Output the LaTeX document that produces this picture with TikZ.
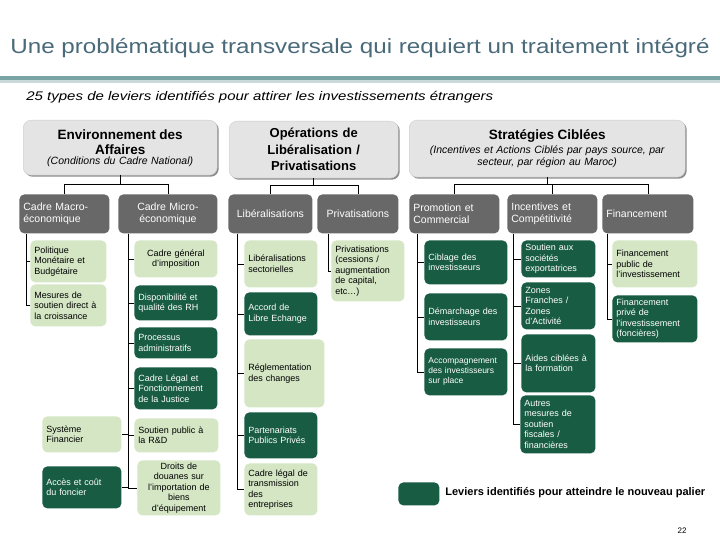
\documentclass[tikz,border=0pt]{standalone}
\usepackage{fontspec}
\usepackage{graphicx}
\setmainfont{Liberation Sans}
\usetikzlibrary{shadows}

\definecolor{titleblue}{RGB}{74,106,122}
\definecolor{rulegreen}{RGB}{122,163,163}
\definecolor{headgray}{RGB}{228,228,228}
\definecolor{subgray}{RGB}{104,104,104}
\definecolor{palegreen}{RGB}{212,230,196}
\definecolor{levergreen}{RGB}{24,92,68}

\tikzset{
  box/.style={rounded corners=5pt, inner xsep=4pt, inner ysep=2pt, anchor=north west,
    align=left, font=\fontsize{9}{10.5}\selectfont},
  palebox/.style={box, fill=palegreen},
  leverbox/.style={box, fill=levergreen, text=white},
  subbox/.style={box, fill=subgray, text=white, minimum height=39pt,
    font=\fontsize{10.5}{12.5}\selectfont},
  headbox/.style={box, rounded corners=8pt, fill=headgray, draw=black!20, line width=0.4pt,
    align=center, drop shadow={shadow xshift=1.5pt, shadow yshift=-1.5pt, fill=black!45, opacity=1}},
}

\begin{document}
\begin{tikzpicture}[x=1pt,y=-1pt,line width=0.8pt]
  \useasboundingbox[fill=white] (0,0) rectangle (720,540);
  % title and rule
  \node[anchor=west, inner sep=0, text=titleblue, font=\fontsize{20.5}{24}\selectfont] (title) at (10,48)
    {\scalebox{1.18}[1]{Une problématique transversale qui requiert un traitement intégré}};
  \fill[rulegreen] (0,76) rectangle (720,80);
  \fill[rulegreen!40] (0,80) rectangle (720,83);
  \node[anchor=west, inner sep=0, font=\fontsize{12.5}{15}\selectfont\itshape] (subtitle) at (26,97)
    {\scalebox{1.2}[1]{25 types de leviers identifiés pour attirer les investissements étrangers}};

  % the three families
  \node[headbox, text width=186pt, minimum height=55pt, font=\fontsize{10.5}{12}\selectfont] (env) at (23,120)
    {{\fontsize{13.5}{16}\selectfont\bfseries Environnement des\\[3pt] Affaires}\\[-2pt]
     {\itshape (Conditions du Cadre National)}};
  \node[headbox, text width=161pt, minimum height=57pt, font=\fontsize{13}{16.5}\selectfont\bfseries] (oper) at (229,121)
    {Opérations de\\Libéralisation /\\Privatisations};
  \node[headbox, text width=268pt, minimum height=57pt, font=\fontsize{10.5}{12}\selectfont] (strat) at (409,120)
    {{\fontsize{13.5}{16}\selectfont\bfseries Stratégies Ciblées}\\[2pt]
     {\itshape (Incentives et Actions Ciblés par pays source, par\\ secteur, par région au Maroc)}};

  % sub-categories
  \node[subbox, text width=82pt] (macro) at (19,194) {Cadre Macro-\\économique};
  \node[subbox, text width=91pt, align=center] (micro) at (118,194) {Cadre Micro-\\économique};
  \node[subbox, text width=76pt, align=center] (libe) at (228,194) {Libéralisations};
  \node[subbox, text width=73pt, align=center] (priv) at (317,194) {Privatisations};
  \node[subbox, text width=82pt] (promo) at (409,194) {Promotion et\\Commercial};
  \node[subbox, text width=82pt] (incent) at (507,194) {Incentives et\\Compétitivité};
  \node[subbox, text width=83pt] (finan) at (602,194) {Financement};

  % macro
  \node[palebox, text width=68pt, minimum height=42pt] (pol) at (30,240) {Politique\\Monétaire et\\Budgétaire};
  \node[palebox, text width=68pt, minimum height=42pt] (mes) at (30,284) {Mesures de\\soutien direct à\\la croissance};
  % micro
  \node[palebox, text width=75pt, minimum height=37pt, align=center] (cgi) at (134,240) {Cadre général\\d'imposition};
  \node[leverbox, text width=75pt, minimum height=35pt] (rh) at (134,285) {Disponibilité et\\qualité des RH};
  \node[leverbox, text width=75pt, minimum height=31pt] (proc) at (134,327) {Processus\\administratifs};
  \node[leverbox, text width=75pt, minimum height=42pt] (cadl) at (134,367) {Cadre Légal et\\Fonctionnement\\de la Justice};
  \node[palebox, text width=76pt, minimum height=34pt] (rd) at (134,418) {Soutien public à\\la R\&D};
  \node[palebox, text width=75pt, minimum height=55pt, align=center] (drt) at (137,460)
    {Droits de\\douanes sur\\l'importation de\\biens\\d'équipement};
  \node[palebox, text width=71pt, minimum height=36pt] (sysf) at (42,416) {Système\\Financier};
  \node[leverbox, text width=71pt, minimum height=42pt] (acc) at (42,466) {Accès et coût\\du foncier};
  % liberalisations
  \node[palebox, text width=65pt, minimum height=47pt] (libs) at (244,240) {Libéralisations\\sectorielles};
  \node[leverbox, text width=65pt, minimum height=43pt] (ale) at (244,292) {Accord de\\Libre Echange};
  \node[palebox, text width=72pt, minimum height=68pt] (regl) at (244,339) {Réglementation\\des changes};
  \node[leverbox, text width=65pt, minimum height=46pt] (ppp) at (244,412) {Partenariats\\Publics Privés};
  \node[palebox, text width=65pt, minimum height=52pt] (cltr) at (244,463) {Cadre légal de\\transmission\\des\\entreprises};
  % privatisations
  \node[palebox, text width=65pt, minimum height=61pt] (privl) at (331,240)
    {Privatisations\\(cessions /\\augmentation\\de capital,\\etc…)};
  % promotion
  \node[leverbox, text width=75pt, minimum height=44pt] (cib) at (424,240) {Ciblage des\\investisseurs};
  \node[leverbox, text width=75pt, minimum height=47pt] (dem) at (424,293) {Démarchage des\\investisseurs};
  \node[leverbox, text width=75pt, minimum height=47pt, font=\fontsize{8.5}{10}\selectfont] (accp) at (424,348)
    {Accompagnement\\des investisseurs\\sur place};
  % incentives
  \node[leverbox, text width=66pt, minimum height=37pt] (sout) at (521,240) {Soutien aux\\sociétés\\exportatrices};
  \node[leverbox, text width=66pt, minimum height=47pt] (zon) at (521,282) {Zones\\Franches /\\Zones\\d'Activité};
  \node[leverbox, text width=66pt, minimum height=58pt] (aid) at (521,334) {Aides ciblées à\\la formation};
  \node[leverbox, text width=67pt, minimum height=58pt] (aut) at (520,395) {Autres\\mesures de\\soutien\\fiscales /\\financières};
  % financement
  \node[palebox, text width=77pt, minimum height=47pt] (fpub) at (612,240) {Financement\\public de\\l'investissement};
  \node[leverbox, text width=77pt, minimum height=47pt] (fpri) at (612,295)
    {Financement\\privé de\\l'investissement\\(foncières)};

  % legend
  \node[leverbox, minimum width=41pt, minimum height=23pt] (legbox) at (398,482) {};
  \node[anchor=west, inner sep=0, font=\fontsize{11}{13}\selectfont\bfseries] (legtext) at (445,493)
    {Leviers identifiés pour atteindre le nouveau palier};
  \node[inner sep=0, font=\fontsize{8}{10}\selectfont] (pagenum) at (682,531) {22};

  \begin{scope}[-]
    \draw (env.south) -- ++(0,9) -| (macro.north);
    \draw (env.south) -- ++(0,9) -| (micro.north);
    \draw (oper.south) -- ++(0,7) -| (libe.north);
    \draw (oper.south) -- ++(0,7) -| (priv.north);
    \draw (strat.south) -- ++(0,7) -| (promo.north);
    \draw (strat.south) -- ++(0,7) -| (incent.north);
    \draw (strat.south) -- ++(0,7) -| (finan.north);
    \draw ([xshift=7pt]macro.south west) |- (pol.west);
    \draw ([xshift=7pt]macro.south west) |- (mes.west);
    \draw ([xshift=10pt]micro.south west) |- (cgi.west);
    \draw ([xshift=10pt]micro.south west) |- (rh.west);
    \draw ([xshift=10pt]micro.south west) |- (proc.west);
    \draw ([xshift=10pt]micro.south west) |- (cadl.west);
    \draw ([xshift=10pt]micro.south west) |- (rd.west);
    \draw ([xshift=10pt]micro.south west) |- (drt.west);
    \draw ([xshift=10pt]micro.south west) |- (sysf.east);
    \draw ([xshift=10pt]micro.south west) |- (acc.east);
    \draw ([xshift=9pt]libe.south west) |- (libs.west);
    \draw ([xshift=9pt]libe.south west) |- (ale.west);
    \draw ([xshift=9pt]libe.south west) |- (regl.west);
    \draw ([xshift=9pt]libe.south west) |- (ppp.west);
    \draw ([xshift=9pt]libe.south west) |- (cltr.west);
    \draw ([xshift=11pt]priv.south west) |- (privl.west);
    \draw ([xshift=8pt]promo.south west) |- (cib.west);
    \draw ([xshift=8pt]promo.south west) |- (dem.west);
    \draw ([xshift=8pt]promo.south west) |- (accp.west);
    \draw ([xshift=6pt]incent.south west) |- (sout.west);
    \draw ([xshift=6pt]incent.south west) |- (zon.west);
    \draw ([xshift=6pt]incent.south west) |- (aid.west);
    \draw ([xshift=6pt]incent.south west) |- (aut.west);
    \draw ([xshift=5pt]finan.south west) |- (fpub.west);
    \draw ([xshift=5pt]finan.south west) |- (fpri.west);
  \end{scope}
\end{tikzpicture}
\end{document}
